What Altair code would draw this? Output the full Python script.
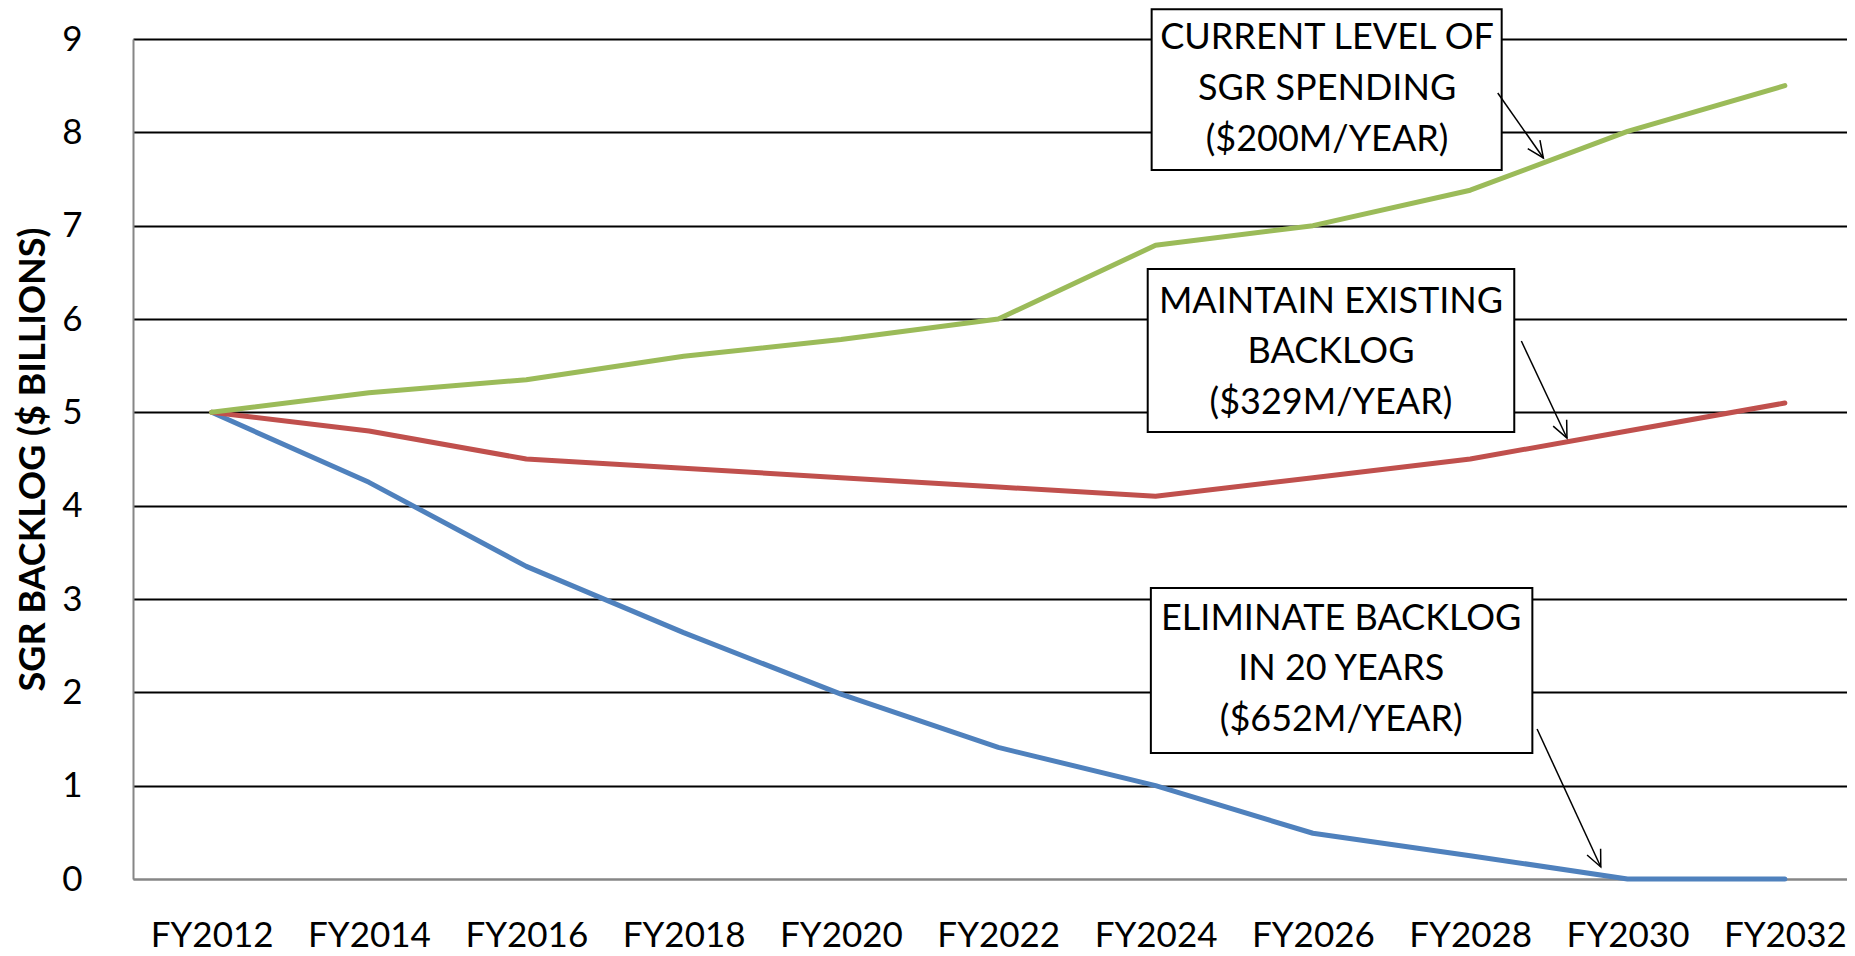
import math
import altair as alt
import pandas as pd

# ---- data ----
years = [2012, 2014, 2016, 2018, 2020, 2022, 2024, 2026, 2028, 2030, 2032]
current_level = [5.0, 5.21, 5.35, 5.6, 5.78, 6.0, 6.79, 7.0, 7.38, 8.01, 8.5]
maintain_backlog = [5.0, 4.8, 4.5, 4.4, 4.3, 4.2, 4.1, 4.3, 4.5, 4.8, 5.1]
eliminate_backlog = [5.0, 4.25, 3.35, 2.64, 1.98, 1.41, 1.0, 0.49, 0.25, 0.0, 0.0]

series_names = ["Eliminate backlog", "Maintain backlog", "Current level"]
series_colors = ["#4F81BD", "#C0504D", "#9BBB59"]

y_ticks = [0, 1, 2, 3, 4, 5, 6, 7, 8, 9]
y_title = "SGR BACKLOG ($ BILLIONS)"

# annotation boxes (data coordinates: year, value)
box_x1 = [2023.95, 2023.90, 2023.94]
box_x2 = [2028.40, 2028.56, 2028.79]
box_top = [9.32, 6.536, 3.118]
box_bottom = [7.596, 4.789, 1.350]

label_lines = [
    ["CURRENT LEVEL OF", "SGR SPENDING", "($200M/YEAR)"],
    ["MAINTAIN EXISTING", "BACKLOG", "($329M/YEAR)"],
    ["ELIMINATE BACKLOG", "IN 20 YEARS", "($652M/YEAR)"],
]
label_x = [2026.18, 2026.23, 2026.36]
label_y = [[9.011, 8.464, 7.918], [6.182, 5.646, 5.100], [2.786, 2.250, 1.704]]

arrow_x1 = [2028.35, 2028.65, 2028.85]
arrow_y1 = [8.421, 5.764, 1.607]
arrow_x2 = [2028.93, 2029.23, 2029.66]
arrow_y2 = [7.725, 4.725, 0.129]

# ---- layout ----
W, H = 1714, 840
X_DOMAIN = [2011, 2032.79]
Y_DOMAIN = [0, 9]
px_per_year = W / (X_DOMAIN[1] - X_DOMAIN[0])
px_per_unit = H / (Y_DOMAIN[1] - Y_DOMAIN[0])
FONT = "Lato"

rows = []
for name, vals in zip(series_names, [eliminate_backlog, maintain_backlog, current_level]):
    for yr, v in zip(years, vals):
        rows.append({"year": yr, "value": v, "series": name})
df_lines = pd.DataFrame(rows)

df_boxes = pd.DataFrame({"x1": box_x1, "x2": box_x2, "y1": box_top, "y2": box_bottom})

trows = []
for lines, lx, lys in zip(label_lines, label_x, label_y):
    for t, ly in zip(lines, lys):
        trows.append({"x": lx, "y": ly, "text": t})
df_text = pd.DataFrame(trows)

angles = []
for x1, y1, x2, y2 in zip(arrow_x1, arrow_y1, arrow_x2, arrow_y2):
    dx = (x2 - x1) * px_per_year
    dy = (y1 - y2) * px_per_unit
    angles.append((360 - math.degrees(math.atan2(dx, dy))) % 360)
df_arrows = pd.DataFrame({"x1": arrow_x1, "y1": arrow_y1, "x2": arrow_x2,
                          "y2": arrow_y2, "angle": angles})

x_scale = alt.Scale(domain=X_DOMAIN, nice=False, zero=False)
y_scale = alt.Scale(domain=Y_DOMAIN, nice=False, zero=True)

x_axis = alt.Axis(
    values=years, labelExpr="'FY' + datum.value", title=None, grid=False,
    ticks=False, tickSize=0, domainColor="#868686", domainWidth=2,
    labelFont=FONT, labelFontSize=35, labelColor="black", labelPadding=39,
)
y_axis = alt.Axis(
    values=y_ticks, format="d", title=y_title, grid=True,
    gridColor=alt.condition("datum.value === 0", alt.value("#868686"), alt.value("black")),
    gridWidth=1.8, ticks=False, tickSize=0, domainColor="#868686", domainWidth=2,
    labelFont=FONT, labelFontSize=35, labelColor="black", labelPadding=51,
    titleFont=FONT, titleFontSize=36, titleFontWeight="bold", titleColor="black",
    titleAngle=270, titleX=-89, titleY=H / 2, titleBaseline="alphabetic",
    titleAlign="center",
)

lines = alt.Chart(df_lines).mark_line(
    strokeWidth=5, strokeCap="round", strokeJoin="round"
).encode(
    x=alt.X("year:Q", scale=x_scale, axis=x_axis),
    y=alt.Y("value:Q", scale=y_scale, axis=y_axis),
    color=alt.Color("series:N", scale=alt.Scale(domain=series_names, range=series_colors),
                    legend=None),
    order="year:Q",
)

boxes = alt.Chart(df_boxes).mark_rect(fill="white", stroke="black", strokeWidth=2).encode(
    x=alt.X("x1:Q", scale=x_scale), x2="x2:Q",
    y=alt.Y("y1:Q", scale=y_scale), y2="y2:Q",
)

texts = alt.Chart(df_text).mark_text(
    font=FONT, fontSize=36, color="black", align="center", baseline="middle"
).encode(
    x=alt.X("x:Q", scale=x_scale), y=alt.Y("y:Q", scale=y_scale), text="text:N",
)

shafts = alt.Chart(df_arrows).mark_rule(color="black", strokeWidth=1.5).encode(
    x=alt.X("x1:Q", scale=x_scale), y=alt.Y("y1:Q", scale=y_scale),
    x2="x2:Q", y2="y2:Q",
)

heads = alt.Chart(df_arrows).mark_point(
    shape="M-0.45,-1L0,0L0.45,-1", filled=False, size=1100, color="black",
    strokeWidth=1.5, opacity=1,
).encode(
    x=alt.X("x2:Q", scale=x_scale), y=alt.Y("y2:Q", scale=y_scale),
    angle=alt.Angle("angle:Q", scale=None),
)

chart = alt.layer(lines, boxes, texts, shafts, heads).properties(
    width=W, height=H,
    autosize=alt.AutoSizeParams(type="none"),
    padding={"left": 125, "top": 31, "right": 0, "bottom": 77},
).configure_view(stroke=None).configure(background="white")

chart.save("out.html", embed_options={"renderer": "svg", "actions": False})
